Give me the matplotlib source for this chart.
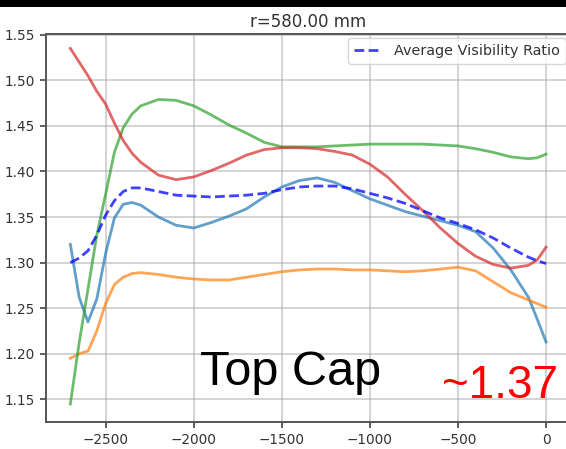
import matplotlib
matplotlib.use("Agg")
import matplotlib.pyplot as plt
from matplotlib.patches import Rectangle

# ---- data ----
x = [-2700, -2650, -2600, -2550, -2500, -2450, -2400, -2350, -2300, -2200,
     -2100, -2000, -1900, -1800, -1700, -1600, -1500, -1400, -1300, -1200,
     -1100, -1000, -900, -800, -700, -600, -500, -400, -300, -200, -100, -50, 0]

blue = [1.320, 1.262, 1.235, 1.260, 1.310, 1.349, 1.364, 1.366, 1.363, 1.350,
        1.341, 1.338, 1.344, 1.351, 1.359, 1.372, 1.383, 1.390, 1.393, 1.388,
        1.379, 1.370, 1.363, 1.356, 1.351, 1.346, 1.341, 1.334, 1.316, 1.292,
        1.262, 1.238, 1.213]

orange = [1.195, 1.200, 1.203, 1.225, 1.255, 1.276, 1.284, 1.288, 1.289, 1.287,
          1.284, 1.282, 1.281, 1.281, 1.284, 1.287, 1.290, 1.292, 1.293, 1.293,
          1.292, 1.292, 1.291, 1.290, 1.291, 1.293, 1.295, 1.291, 1.279, 1.267,
          1.259, 1.255, 1.251]

green = [1.145, 1.212, 1.271, 1.330, 1.375, 1.421, 1.448, 1.463, 1.472, 1.479,
         1.478, 1.472, 1.462, 1.451, 1.442, 1.432, 1.427, 1.427, 1.427, 1.428,
         1.429, 1.430, 1.430, 1.430, 1.430, 1.429, 1.428, 1.425, 1.421, 1.416,
         1.414, 1.415, 1.419]

red = [1.535, 1.520, 1.505, 1.488, 1.474, 1.453, 1.434, 1.420, 1.410, 1.396,
       1.391, 1.394, 1.401, 1.409, 1.418, 1.424, 1.426, 1.426, 1.425, 1.422,
       1.418, 1.408, 1.394, 1.375, 1.357, 1.338, 1.321, 1.307, 1.298, 1.294,
       1.297, 1.303, 1.317]

average = [1.300, 1.305, 1.313, 1.330, 1.352, 1.368, 1.378, 1.382, 1.382, 1.378,
           1.374, 1.373, 1.372, 1.373, 1.374, 1.376, 1.380, 1.383, 1.384, 1.384,
           1.381, 1.376, 1.371, 1.365, 1.357, 1.349, 1.343, 1.336, 1.327, 1.316,
           1.306, 1.302, 1.299]

title = "r=580.00 mm"
legend_label = "Average Visibility Ratio"
xticks = [-2500, -2000, -1500, -1000, -500, 0]
yticks = [1.15, 1.20, 1.25, 1.30, 1.35, 1.40, 1.45, 1.50, 1.55]

W, H = 566, 449
fig = plt.figure(figsize=(W / 100, H / 100), dpi=100)
fig.patch.set_facecolor("white")

ax = fig.add_axes([45.7 / W, 1 - 421.7 / H, (570 - 45.7) / W, (421.7 - 34) / H])

for series, col in [(blue, "#1f77b4"), (orange, "#ff7f0e"), (green, "#2ca02c"), (red, "#d62728")]:
    ax.plot(x, series, color=col, lw=2.0, alpha=0.7, solid_joinstyle="round")
ax.plot(x, average, color="#0000ff", ls="--", lw=2.0, alpha=0.75, label=legend_label,
        dashes=(3.5, 1.6))

ax.set_xlim(-2840, 136)
ax.set_ylim(1.1255, 1.5508)
ax.set_xticks(xticks)
ax.set_yticks(yticks)
ax.set_yticklabels([f"{v:.2f}" for v in yticks])
ax.grid(True, color="#b0b0b0", lw=1.4, alpha=0.55)
ax.set_axisbelow(True)
for s in ax.spines.values():
    s.set_color("#555555")
    s.set_linewidth(1.4)
ax.tick_params(labelsize=9.8, colors="#444444", length=4.5, width=1.2, labelcolor="#333333")

ax.set_title(title, fontsize=12, color="#333333", pad=5)
leg = ax.legend(loc="upper right", fontsize=10.4, framealpha=0.8, edgecolor="#cccccc",
                handlelength=2.0, borderaxespad=0.3)
for t in leg.get_texts():
    t.set_color("#333333")

fig.text(200 / W, 1 - 385 / H, "Top Cap", fontsize=35, family="Liberation Sans",
         color="black", ha="left", va="baseline")
fig.text(442 / W, 1 - 398 / H, "~1.37", fontsize=33, family="Liberation Sans",
         color="red", ha="left", va="baseline")

fig.patches.append(Rectangle((0, 1 - 6.5 / H), 1, 6.5 / H, transform=fig.transFigure,
                             facecolor="black", edgecolor="none", zorder=10))

fig.savefig("out.png", dpi=100)
